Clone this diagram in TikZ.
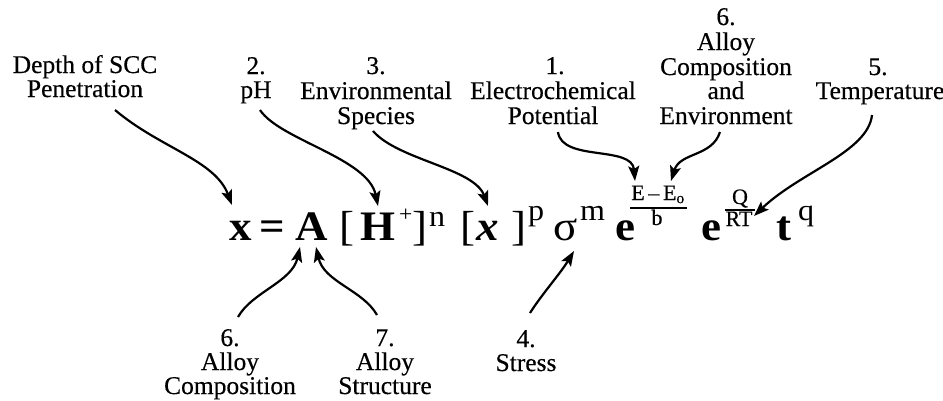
\documentclass[tikz,border=0pt]{standalone}
\usepackage{fontspec}
\setmainfont{Liberation Serif}
\newfontfamily\eqfont[FakeStretch=1.07]{Liberation Serif}
\newfontfamily\lblfont[FakeBold=0.4]{Liberation Serif}
\usetikzlibrary{arrows.meta}
\begin{document}
\begin{tikzpicture}[x=1pt,y=-1pt,
  lbl/.style={font=\lblfont\fontsize{25.5}{25.5}\selectfont, inner sep=0pt, anchor=base},
  eqb/.style={font=\eqfont\fontsize{42}{42}\selectfont\bfseries, inner sep=0pt, anchor=base west},
  eqr/.style={font=\eqfont\fontsize{42}{42}\selectfont, inner sep=0pt, anchor=base west},
  supr/.style={font=\eqfont\fontsize{30}{30}\selectfont, inner sep=0pt, anchor=base west},
  fracr/.style={font=\lblfont\fontsize{22}{22}\selectfont, inner sep=0pt, anchor=base},
  arr/.style={line width=2.2pt, -{Stealth[length=15pt,width=11pt,inset=3pt]}},
  bar/.style={line width=1.4pt}
]
\useasboundingbox (0,0) rectangle (943,400);

% top labels
\node[lbl] (dA) at (85,73) {Depth of SCC};
\node[lbl] (dB) at (85,97) {Penetration};
\node[lbl] (pA) at (256,74) {2.};
\node[lbl] (pB) at (256,98) {pH};
\node[lbl] (sA) at (376,74) {3.};
\node[lbl] (sB) at (376,99) {Environmental};
\node[lbl] (sC) at (376,124) {Species};
\node[lbl] (eA) at (555,74) {1.};
\node[lbl] (eB) at (553,99) {Electrochemical};
\node[lbl] (eC) at (553,124) {Potential};
\node[lbl] (cA) at (726,25) {6.};
\node[lbl] (cB) at (726,50) {Alloy};
\node[lbl] (cC) at (726,75) {Composition};
\node[lbl] (cD) at (726,99) {and};
\node[lbl] (cE) at (726,124) {Environment};
\node[lbl] (tA) at (878,75) {5.};
\node[lbl] (tB) at (880,99) {Temperature};

% bottom labels
\node[lbl] (aA) at (230,346) {6.};
\node[lbl] (aB) at (230,370) {Alloy};
\node[lbl] (aC) at (230,394) {Composition};
\node[lbl] (bA) at (385,346) {7.};
\node[lbl] (bB) at (385,370) {Alloy};
\node[lbl] (bC) at (385,394) {Structure};
\node[lbl] (stA) at (526,347) {4.};
\node[lbl] (stB) at (526,371) {Stress};

% equation
\node[eqb] (X) at (229,240) {x};
\node[eqb] (EQ) at (259,240) {=};
\node[eqb] (A) at (295,240) {A};
\node[eqr] (LB1) at (339,240) {[};
\node[eqb] (H) at (360,240) {H};
\node[font=\eqfont\fontsize{22}{22}\selectfont, inner sep=0pt, anchor=base west] (PL) at (399,221) {+};
\node[eqr] (RB1) at (412,240) {]};
\node[supr] (N) at (429,226) {n};
\node[eqr] (LB2) at (460,240) {[};
\node[font=\eqfont\fontsize{42}{42}\selectfont\bfseries\itshape, inner sep=0pt, anchor=base west] (XI) at (476,240) {x};
\node[eqr] (RB2) at (511,240) {]};
\node[supr] (P) at (528,220) {p};
\node[eqr] (SG) at (553,240) {σ};
\node[supr] (M) at (580,220) {m};
\node[eqb] (E1) at (615,240) {e};
\node[fracr] (FN) at (658,200) {E\,–\,E\textsubscript{o}};
\draw[bar] (630,208) -- (687,208);
\node[fracr] (FD) at (657,225) {b};
\node[eqb] (E2) at (701,240) {e};
\node[fracr] (QN) at (740,204) {Q};
\draw[bar] (725,210) -- (755,210);
\node[fracr] (QD) at (739,226) {RT};
\node[eqb] (T) at (776,240) {t};
\node[supr] (Q) at (798,220) {q};

% arrow end points
\coordinate (s1) at (115,110); \coordinate (t1) at (232,205);
\coordinate (s2) at (260,110); \coordinate (t2) at (378,206);
\coordinate (s3) at (373,131); \coordinate (t3) at (488,206);
\coordinate (s4) at (558,132); \coordinate (t4) at (635,181);
\coordinate (s5) at (720,132); \coordinate (t5) at (671,181);
\coordinate (s6) at (872,115); \coordinate (t6) at (754,216);
\coordinate (s7) at (238,317); \coordinate (t7) at (300,247);
\coordinate (s8) at (377,315); \coordinate (t8) at (316,247);
\coordinate (s9) at (530,313); \coordinate (t9) at (574,251);

\draw[arr] (s1) .. controls (160,148) and (215,160) .. (t1);
\draw[arr] (s2) .. controls (280,140) and (368,158) .. (t2);
\draw[arr] (s3) .. controls (398,160) and (474,168) .. (t3);
\draw[arr] (s4) .. controls (562,162) and (632,145) .. (t4);
\draw[arr] (s5) .. controls (712,157) and (680,152) .. (t5);
\draw[arr] (s6) .. controls (868,152) and (800,172) .. (t6);
\draw[arr] (s7) .. controls (252,292) and (292,282) .. (t7);
\draw[arr] (s8) .. controls (363,290) and (324,282) .. (t8);
\draw[arr] (s9) .. controls (542,294) and (560,274) .. (t9);
\end{tikzpicture}
\end{document}
